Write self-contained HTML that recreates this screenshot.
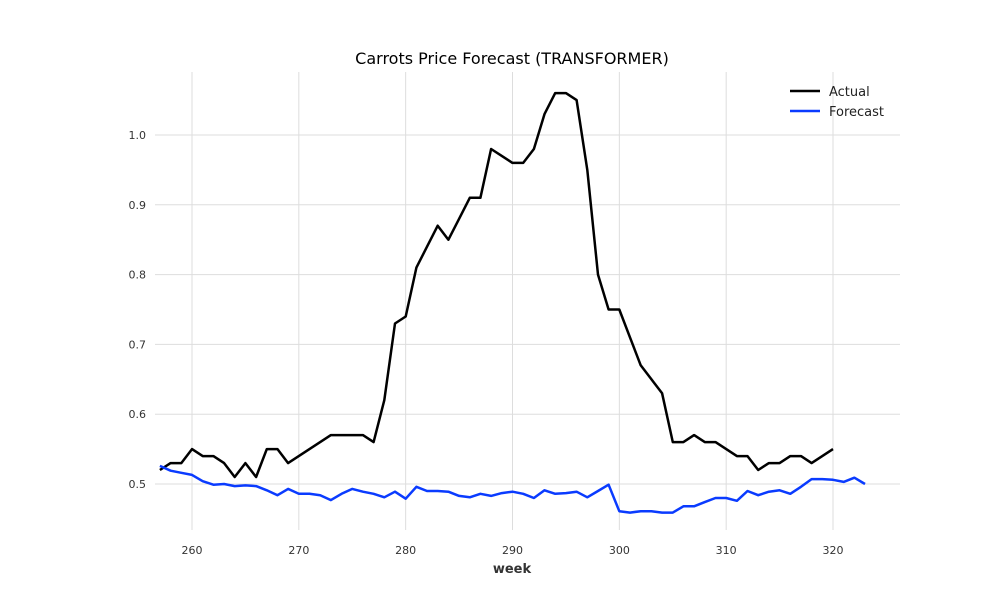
<!DOCTYPE html>
<html><head><meta charset="utf-8"><style>
body{margin:0;background:#fff;}
svg text{font-family:"DejaVu Sans","Liberation Sans",sans-serif;}
</style></head><body>
<svg id="chart" width="1000" height="600" xmlns="http://www.w3.org/2000/svg">
<rect width="1000" height="600" fill="#fff"/>
<g id="grid"></g><g id="ticks"></g><g id="series"></g>
<text x="512" y="64" text-anchor="middle" font-size="16" fill="#000">Carrots Price Forecast (TRANSFORMER)</text>
<text x="512" y="573" text-anchor="middle" font-size="13" font-weight="bold" fill="#333">week</text>
<g>
<line x1="790" y1="91" x2="820" y2="91" stroke="#000" stroke-width="2.5"/>
<text x="829" y="96" font-size="13" fill="#222">Actual</text>
<line x1="790" y1="111" x2="820" y2="111" stroke="#0a3bff" stroke-width="2.5"/>
<text x="829" y="116" font-size="13" fill="#222">Forecast</text>
</g>
</svg>
<script>
const actualStart = 257;
const actualValues = [0.52,0.53,0.53,0.55,0.54,0.54,0.53,0.51,0.53,0.51,0.55,0.55,0.53,0.54,0.55,0.56,0.57,0.57,0.57,0.57,0.56,0.62,0.73,0.74,0.81,0.84,0.87,0.85,0.88,0.91,0.91,0.98,0.97,0.96,0.96,0.98,1.03,1.06,1.06,1.05,0.95,0.80,0.75,0.75,0.71,0.67,0.65,0.63,0.56,0.56,0.57,0.56,0.56,0.55,0.54,0.54,0.52,0.53,0.53,0.54,0.54,0.53,0.54,0.55];
const forecastStart = 257;
const forecastValues = [0.526,0.519,0.516,0.513,0.504,0.499,0.500,0.497,0.498,0.497,0.491,0.484,0.493,0.486,0.486,0.484,0.477,0.486,0.493,0.489,0.486,0.481,0.489,0.479,0.496,0.490,0.490,0.489,0.483,0.481,0.486,0.483,0.487,0.489,0.486,0.480,0.491,0.486,0.487,0.489,0.481,0.490,0.499,0.461,0.459,0.461,0.461,0.459,0.459,0.468,0.468,0.474,0.480,0.480,0.476,0.490,0.484,0.489,0.491,0.486,0.496,0.507,0.507,0.506,0.503,0.509,0.500];
const xTicks = [260,270,280,290,300,310,320];
const yTicks = [0.5,0.6,0.7,0.8,0.9,1.0];
const yTickLabels = ["0.5","0.6","0.7","0.8","0.9","1.0"];

const X = w => 192 + (w - 260) * (833 - 192) / 60;
const Y = v => 484 - (v - 0.5) * 698;
const NS = "http://www.w3.org/2000/svg";
const grid = document.getElementById('grid'), ticks = document.getElementById('ticks'), series = document.getElementById('series');
function mk(tag, attrs, parent){const e=document.createElementNS(NS,tag);for(const k in attrs)e.setAttribute(k,attrs[k]);parent.appendChild(e);return e;}
xTicks.forEach(t=>{
  const l=mk('line',{x1:X(t),x2:X(t),y1:72,y2:530,stroke:'#dddddd','stroke-width':1},grid);
  
  
  const tx=mk('text',{x:X(t),y:554,'text-anchor':'middle','font-size':11,fill:'#333'},ticks);
  tx.textContent=t;
  
  
});
yTicks.forEach((t,i)=>{
  const l=mk('line',{x1:155,x2:900,y1:Y(t),y2:Y(t),stroke:'#dddddd','stroke-width':1},grid);
  
  
  const tx=mk('text',{x:146,y:Y(t)+4,'text-anchor':'end','font-size':11,fill:'#333'},ticks);
  tx.textContent=yTickLabels[i];
  
  
});
function line(start, vals, color){
  const pts = vals.map((v,i)=>X(start+i).toFixed(1)+','+Y(v).toFixed(1)).join(' ');
  return mk('polyline',{points:pts,fill:'none',stroke:color,'stroke-width':2.5,'stroke-linejoin':'round'},series);
}
const a = line(actualStart, actualValues, '#000');


const f = line(forecastStart, forecastValues, '#0a3bff');


</script>
</body></html>
